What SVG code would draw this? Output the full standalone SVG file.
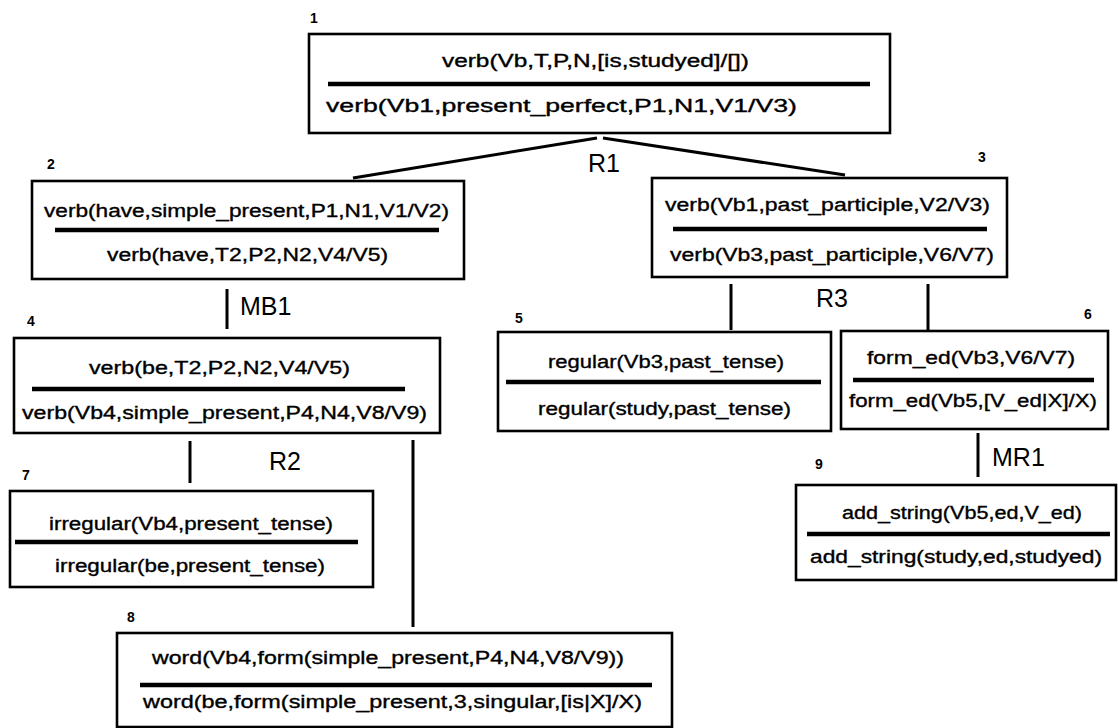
<svg xmlns="http://www.w3.org/2000/svg" width="1118" height="728" viewBox="0 0 1118 728">
<style>
.box{fill:#fff;stroke:#000;stroke-width:2.6}
.div{stroke:#000;stroke-width:4.5}
.t{font-family:"Liberation Sans",Arial,sans-serif;font-size:18px;fill:#000;stroke:#000;stroke-width:0.35}
.n{font-family:"Liberation Sans",Arial,sans-serif;font-size:14px;font-weight:bold;fill:#000}
.el{font-family:"Liberation Sans",Arial,sans-serif;font-size:25px;fill:#000}
.c{stroke:#000;stroke-width:3;fill:none}
</style>
<rect width="1118" height="728" fill="#fff"/>
<g id="connectors">
<line class="c" x1="353" y1="178" x2="597" y2="138"/>
<line class="c" x1="603" y1="138" x2="845" y2="175"/>
<text class="el" x="588" y="172">R1</text>
<line class="c" x1="227" y1="289" x2="227" y2="329"/>
<text class="el" x="240" y="315">MB1</text>
<line class="c" x1="731" y1="284" x2="731" y2="330"/>
<line class="c" x1="928" y1="284" x2="928" y2="330"/>
<text class="el" x="816" y="307">R3</text>
<line class="c" x1="190" y1="441" x2="190" y2="483"/>
<line class="c" x1="413" y1="440" x2="413" y2="627"/>
<text class="el" x="269" y="470">R2</text>
<line class="c" x1="978" y1="433" x2="978" y2="477"/>
<text class="el" x="992" y="466">MR1</text>
</g>
<g id="node1">
<text class="n" x="310" y="23">1</text>
<rect class="box" x="309" y="34" width="581" height="99"/>
<text class="t" x="442" y="67" textLength="307" lengthAdjust="spacingAndGlyphs">verb(Vb,T,P,N,[is,studyed]/[])</text>
<line class="div" x1="328" y1="84" x2="870" y2="84"/>
<text class="t" x="326" y="112" textLength="471" lengthAdjust="spacingAndGlyphs">verb(Vb1,present_perfect,P1,N1,V1/V3)</text>
</g>
<g id="node2">
<text class="n" x="47" y="169">2</text>
<rect class="box" x="32" y="181" width="432" height="98"/>
<text class="t" x="44" y="217" textLength="405" lengthAdjust="spacingAndGlyphs">verb(have,simple_present,P1,N1,V1/V2)</text>
<line class="div" x1="55" y1="230" x2="439" y2="230"/>
<text class="t" x="107" y="261" textLength="281" lengthAdjust="spacingAndGlyphs">verb(have,T2,P2,N2,V4/V5)</text>
</g>
<g id="node3">
<text class="n" x="978" y="162">3</text>
<rect class="box" x="652" y="178" width="355" height="99"/>
<text class="t" x="665" y="211" textLength="325" lengthAdjust="spacingAndGlyphs">verb(Vb1,past_participle,V2/V3)</text>
<line class="div" x1="673" y1="229" x2="987" y2="229"/>
<text class="t" x="670" y="261" textLength="324" lengthAdjust="spacingAndGlyphs">verb(Vb3,past_participle,V6/V7)</text>
</g>
<g id="node4">
<text class="n" x="27" y="326">4</text>
<rect class="box" x="14" y="338" width="426" height="95"/>
<text class="t" x="89" y="374" textLength="261" lengthAdjust="spacingAndGlyphs">verb(be,T2,P2,N2,V4/V5)</text>
<line class="div" x1="32" y1="389" x2="405" y2="389"/>
<text class="t" x="22" y="419" textLength="405" lengthAdjust="spacingAndGlyphs">verb(Vb4,simple_present,P4,N4,V8/V9)</text>
</g>
<g id="node5">
<text class="n" x="515" y="323">5</text>
<rect class="box" x="498" y="332" width="333" height="99"/>
<text class="t" x="548" y="368" textLength="236" lengthAdjust="spacingAndGlyphs">regular(Vb3,past_tense)</text>
<line class="div" x1="506" y1="382" x2="821" y2="382"/>
<text class="t" x="538" y="415" textLength="253" lengthAdjust="spacingAndGlyphs">regular(study,past_tense)</text>
</g>
<g id="node6">
<text class="n" x="1084" y="319">6</text>
<rect class="box" x="841" y="331" width="267" height="98"/>
<text class="t" x="867" y="364" textLength="208" lengthAdjust="spacingAndGlyphs">form_ed(Vb3,V6/V7)</text>
<line class="div" x1="853" y1="380" x2="1094" y2="380"/>
<text class="t" x="849" y="407" textLength="248" lengthAdjust="spacingAndGlyphs">form_ed(Vb5,[V_ed|X]/X)</text>
</g>
<g id="node7">
<text class="n" x="22" y="480">7</text>
<rect class="box" x="10" y="491" width="363" height="96"/>
<text class="t" x="49" y="530" textLength="284" lengthAdjust="spacingAndGlyphs">irregular(Vb4,present_tense)</text>
<line class="div" x1="15" y1="542" x2="358" y2="542"/>
<text class="t" x="55" y="572" textLength="270" lengthAdjust="spacingAndGlyphs">irregular(be,present_tense)</text>
</g>
<g id="node8">
<text class="n" x="127" y="622">8</text>
<rect class="box" x="117" y="633" width="555" height="94"/>
<text class="t" x="152" y="664" textLength="472" lengthAdjust="spacingAndGlyphs">word(Vb4,form(simple_present,P4,N4,V8/V9))</text>
<line class="div" x1="140" y1="685" x2="652" y2="685"/>
<text class="t" x="143" y="708" textLength="499" lengthAdjust="spacingAndGlyphs">word(be,form(simple_present,3,singular,[is|X]/X)</text>
</g>
<g id="node9">
<text class="n" x="815" y="469">9</text>
<rect class="box" x="796" y="485" width="320" height="95"/>
<text class="t" x="842" y="519" textLength="240" lengthAdjust="spacingAndGlyphs">add_string(Vb5,ed,V_ed)</text>
<line class="div" x1="807" y1="534" x2="1110" y2="534"/>
<text class="t" x="810" y="563" textLength="292" lengthAdjust="spacingAndGlyphs">add_string(study,ed,studyed)</text>
</g>
</svg>
